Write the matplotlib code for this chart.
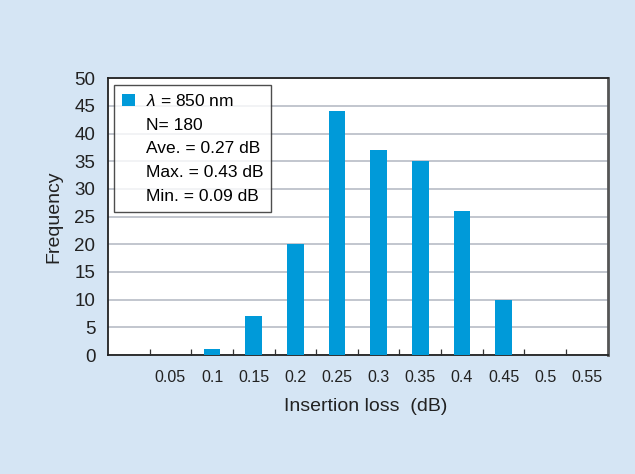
import numpy as np
import matplotlib.pyplot as plt
from matplotlib.patches import Patch

plt.rcParams['font.family'] = ['Liberation Sans', 'DejaVu Sans']
plt.rcParams['mathtext.fontset'] = 'custom'
plt.rcParams['mathtext.it'] = 'Liberation Sans:italic'

# insertion loss bins (first slot is left blank on the axis)
bin_labels = ["", "0.05", "0.1", "0.15", "0.2", "0.25", "0.3", "0.35", "0.4", "0.45", "0.5", "0.55"]
counts = [0, 0, 1, 7, 20, 44, 37, 35, 26, 10, 0, 0]
legend_lines = [r"$\lambda$ = 850 nm", "N= 180", "Ave. = 0.27 dB", "Max. = 0.43 dB", "Min. = 0.09 dB"]

BG = '#d5e5f4'
BAR = '#009ad9'
INK = '#222222'

fig = plt.figure(figsize=(6.35, 4.74), dpi=100)
fig.patch.set_facecolor(BG)
ax = fig.add_axes([0.170, 0.251, 0.787, 0.584])
ax.set_facecolor('white')

x = np.arange(len(bin_labels))
ax.bar(x, counts, width=0.4, color=BAR, zorder=3)

ax.set_xlim(-0.5, len(bin_labels) - 0.5)
ax.set_ylim(0, 50)
ax.set_yticks(np.arange(0, 51, 5))
ax.set_xticks(x)
ax.set_xticklabels(bin_labels, fontsize=11.5)
ax.set_xticks(x[:-1] + 0.5, minor=True)
ax.tick_params(axis='x', which='major', length=0, pad=11, labelcolor=INK)
ax.tick_params(axis='x', which='minor', direction='in', length=4, width=0.9, color='#333333')
ax.tick_params(axis='y', length=0, pad=9, labelsize=13.5, labelcolor=INK)
ax.grid(axis='y', color='#b8bcc6', linewidth=1.2, zorder=0)

for side in ['left', 'bottom', 'top']:
    ax.spines[side].set_color(INK)
    ax.spines[side].set_linewidth(1.3)
ax.spines['right'].set_color('#555555')
ax.spines['right'].set_linewidth(2)

ax.set_ylabel('Frequency', fontsize=14, labelpad=9, color=INK)
ax.set_xlabel('Insertion loss  (dB)', fontsize=14, labelpad=12, color=INK)
ax.xaxis.set_label_coords(0.516, -0.155)

handles = [Patch(facecolor=BAR)] + [Patch(visible=False) for _ in legend_lines[1:]]
leg = ax.legend(handles, legend_lines, loc='upper left', bbox_to_anchor=(0.013, 0.975),
                fontsize=12.5, frameon=True, fancybox=False, borderaxespad=0,
                handlelength=0.75, handleheight=0.75, handletextpad=0.6,
                labelspacing=0.48, borderpad=0.45)
leg.get_frame().set_edgecolor(INK)
leg.get_frame().set_linewidth(1.0)
leg.set_zorder(5)

fig.savefig('out.png', dpi=100, facecolor=BG)
